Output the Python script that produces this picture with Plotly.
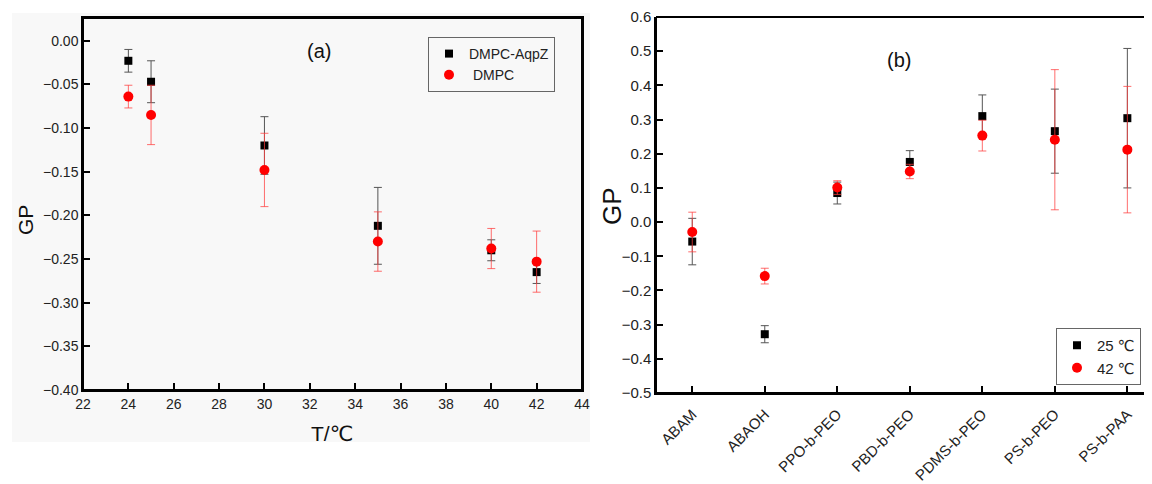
import plotly.graph_objects as go

# ---------------- data ----------------
# panel (a)
temps = [24, 25, 30, 35, 40, 42]
aqpz_gp = [-0.023, -0.047, -0.120, -0.212, -0.240, -0.265]
aqpz_err = [0.013, 0.024, 0.033, 0.044, 0.012, 0.013]
dmpc_gp = [-0.064, -0.085, -0.148, -0.230, -0.238, -0.253]
dmpc_err = [0.013, 0.034, 0.042, 0.034, 0.023, 0.035]
a_xticks = [22, 24, 26, 28, 30, 32, 34, 36, 38, 40, 42, 44]

# panel (b)
polymers = ["ABAM", "ABAOH", "PPO-b-PEO", "PBD-b-PEO", "PDMS-b-PEO", "PS-b-PEO", "PS-b-PAA"]
gp25 = [-0.057, -0.328, 0.085, 0.176, 0.310, 0.266, 0.304]
err25 = [0.068, 0.025, 0.032, 0.033, 0.062, 0.123, 0.204]
gp42 = [-0.029, -0.158, 0.101, 0.148, 0.253, 0.241, 0.212]
err42 = [0.058, 0.023, 0.020, 0.021, 0.045, 0.205, 0.185]

FONT = "Arial, 'Liberation Sans', 'DejaVu Sans', sans-serif"
# page body has an 8px margin: the figure is drawn at (8, 8)
OFF = 8
W, H = 1152 - OFF, 484 - OFF

def px(x):
    return (x - OFF) / W

def py(y):
    return 1 - (y - OFF) / H

# panel frames in screen pixels (whole pixels for crisp lines)
A_L, A_R, A_T, A_B = 83, 582, 18, 390
B_L, B_T, B_B = 656, 17, 393

fig = go.Figure()

black_err = dict(type="data", visible=True, thickness=1, width=4, color="#555555")
red_err_style = dict(thickness=1, width=4, color="rgba(255,60,60,0.75)")

fig.add_trace(go.Scatter(
    x=temps, y=aqpz_gp, mode="markers", name="DMPC-AqpZ",
    marker=dict(symbol="square", size=8, color="black"),
    error_y=dict(array=aqpz_err, **black_err),
    xaxis="x", yaxis="y", legend="legend"))
fig.add_trace(go.Scatter(
    x=temps, y=dmpc_gp, mode="markers", name="\u00a0DMPC",
    marker=dict(symbol="circle", size=10, color="#ff0000"),
    error_y=dict(type="data", array=dmpc_err, visible=True, **red_err_style),
    xaxis="x", yaxis="y", legend="legend"))

fig.add_trace(go.Scatter(
    x=polymers, y=gp25, mode="markers", name="25 \u2103",
    marker=dict(symbol="square", size=8, color="black"),
    error_y=dict(array=err25, **black_err),
    xaxis="x2", yaxis="y2", legend="legend2"))
fig.add_trace(go.Scatter(
    x=polymers, y=gp42, mode="markers", name="42 \u2103",
    marker=dict(symbol="circle", size=10, color="#ff0000"),
    error_y=dict(type="data", array=err42, visible=True, **red_err_style),
    xaxis="x2", yaxis="y2", legend="legend2"))

axis_common = dict(showline=True, linecolor="black", linewidth=1.5,
                   ticks="inside", ticklen=7, tickwidth=1.5, tickcolor="black",
                   showgrid=False, zeroline=False, automargin=False,
                   tickfont=dict(family=FONT, size=14, color="#222"))

fig.update_layout(
    width=W, height=H,
    margin=dict(l=0, r=0, t=0, b=0, autoexpand=False),
    paper_bgcolor="white", plot_bgcolor="rgba(0,0,0,0)",
    font=dict(family=FONT, color="#222"),
    xaxis=dict(domain=[px(A_L), px(A_R)], range=[22, 44], tickvals=a_xticks,
               anchor="y", mirror=True, **axis_common),
    yaxis=dict(domain=[py(A_B), py(A_T)], range=[-0.40, 0.026], dtick=0.05,
               tick0=0, tickformat=".2f", anchor="x", mirror=True,
               **axis_common),
    xaxis2=dict(domain=[px(B_L), 1.0], type="category",
                categoryorder="array", categoryarray=polymers,
                range=[-0.5, 6.34], tickangle=-45, anchor="y2",
                ticklabelstandoff=5,
                **{**axis_common, "tickfont": dict(family=FONT, size=15, color="#222")}),
    yaxis2=dict(domain=[py(B_B), py(B_T)], range=[-0.5, 0.6], dtick=0.1,
                tick0=0, tickformat=".1f", anchor="x2",
                **{**axis_common, "tickfont": dict(family=FONT, size=15, color="#222")}),
    legend=dict(x=px(428), y=py(37), xanchor="left", yanchor="top",
                bordercolor="#666666", borderwidth=1, bgcolor="rgba(0,0,0,0)",
                font=dict(family=FONT, size=14, color="#222")),
    legend2=dict(x=px(1056), y=py(328), xanchor="left", yanchor="top",
                 bordercolor="#666666", borderwidth=1, bgcolor="white",
                 font=dict(family=FONT, size=15, color="#222")),
    showlegend=True,
)

# light gray background panel behind (a)
fig.add_shape(type="rect", xref="paper", yref="paper",
              x0=px(12), x1=px(590), y0=py(442), y1=py(13),
              fillcolor="#f8f8f8", line=dict(width=0), layer="below")
# frame of (a)
fig.add_shape(type="rect", xref="paper", yref="paper",
              x0=px(A_L), x1=px(A_R), y0=py(A_B), y1=py(A_T),
              line=dict(color="black", width=2))
# top / left / bottom lines of (b) (right edge is cropped)
for (x0, y0, x1, y1) in [(B_L, B_T, 1152, B_T), (B_L, B_B, 1152, B_B), (B_L, B_B, B_L, B_T)]:
    fig.add_shape(type="line", xref="paper", yref="paper",
                  x0=px(x0), x1=px(x1), y0=py(y0), y1=py(y1),
                  line=dict(color="black", width=2))

# text annotations: panel labels and axis titles
def label(x, y, text, size, angle=0):
    fig.add_annotation(x=px(x), y=py(y), xref="paper", yref="paper",
                       xanchor="center", yanchor="middle", text=text,
                       textangle=angle, showarrow=False,
                       font=dict(family=FONT, size=size, color="#111"))

label(319, 51, "(a)", 20)
label(899, 60, "(b)", 20)
label(25, 220, "GP", 21, -90)
label(612, 206, "GP", 26, -90)
label(332, 433, "T/\u2103", 21)

fig.write_html("out.html")
